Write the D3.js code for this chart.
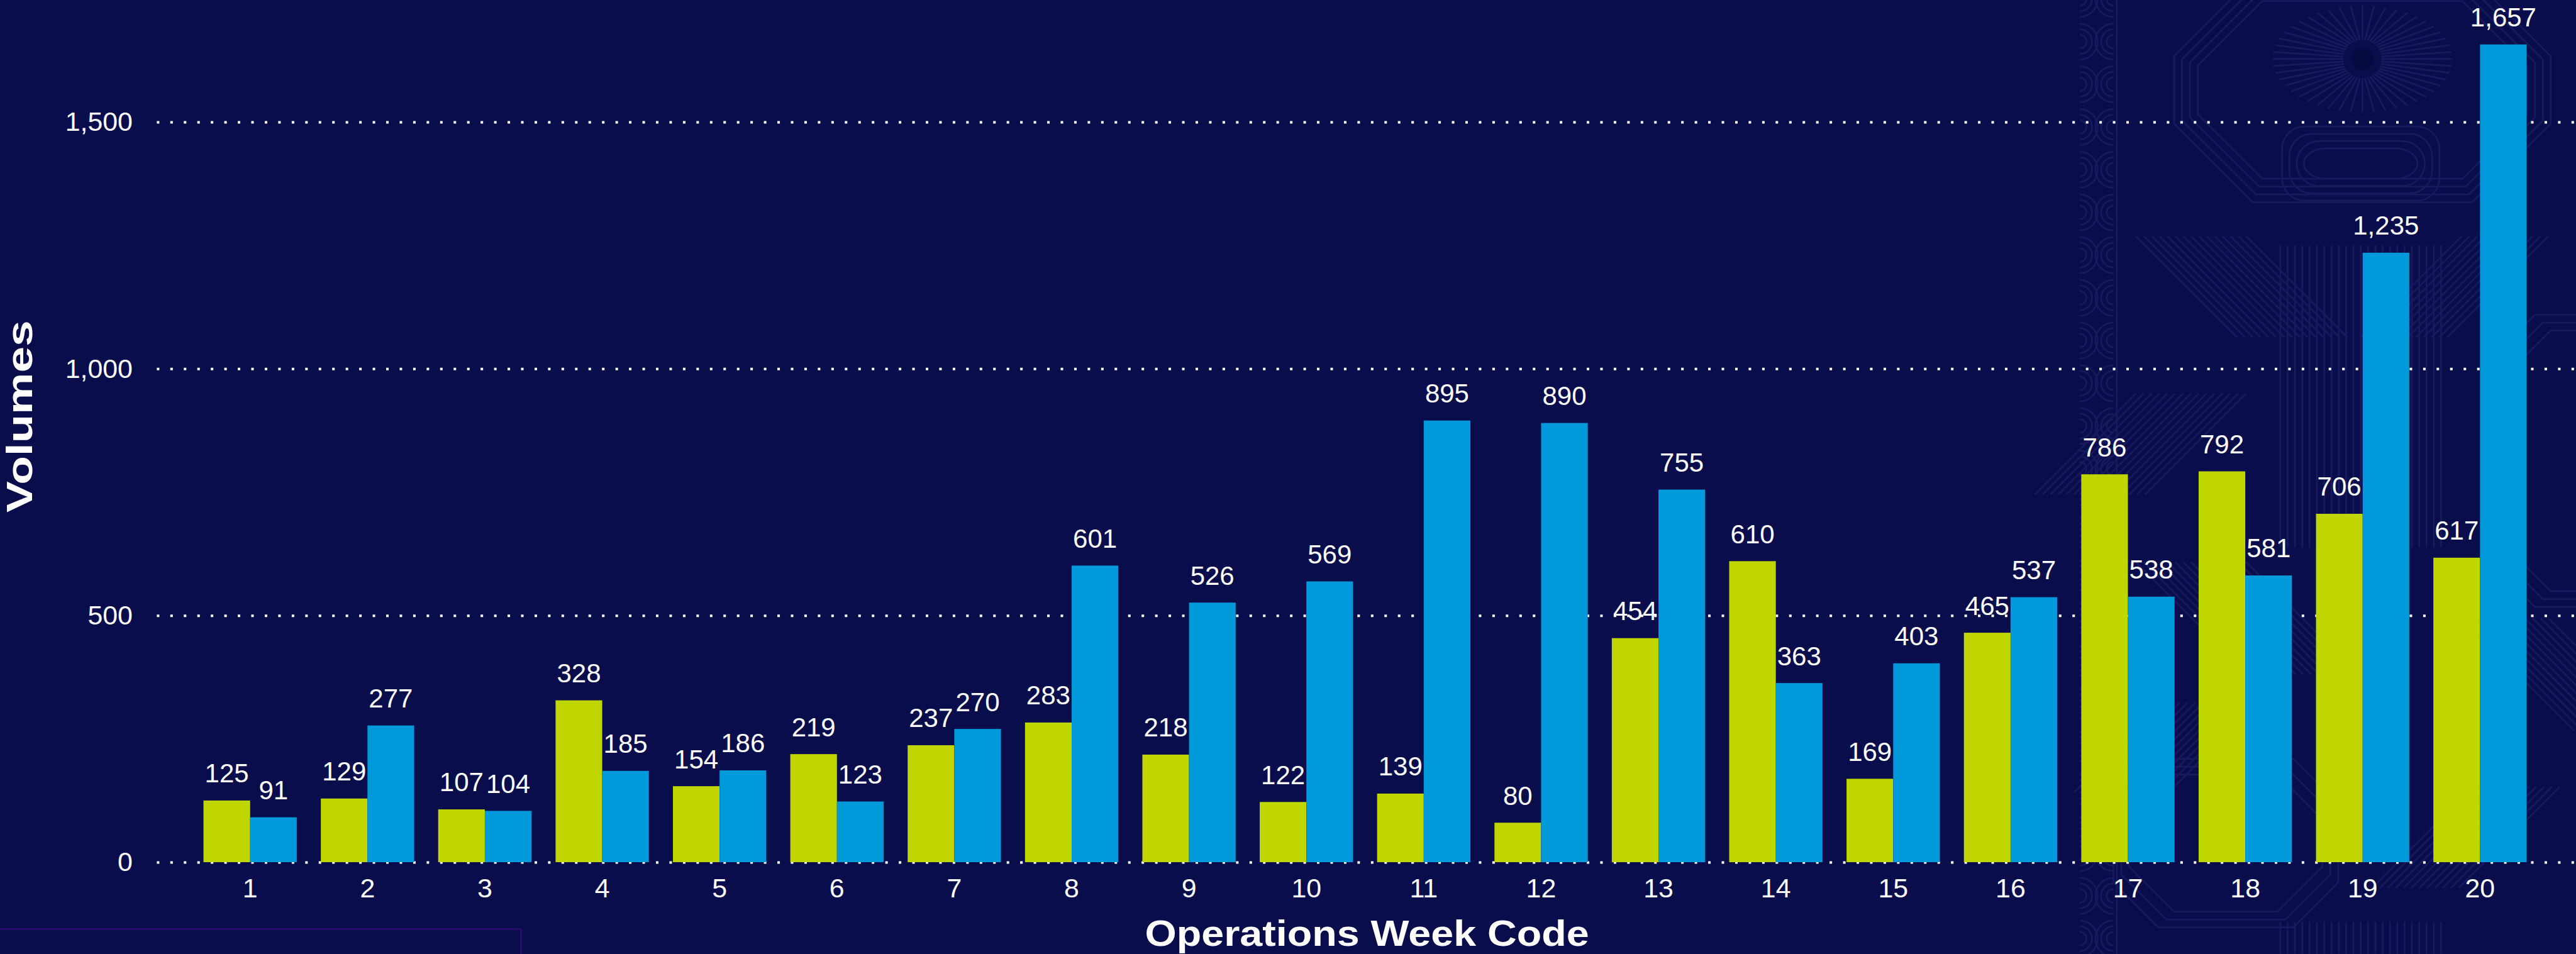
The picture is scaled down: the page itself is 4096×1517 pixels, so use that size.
<!DOCTYPE html>
<html>
<head>
<meta charset="utf-8">
<script src="https://cdn.jsdelivr.net/npm/d3@7"></script>
<style>
  html, body { margin: 0; padding: 0; background: #0a0d4c; overflow: hidden; }
  svg { display: block; }
</style>
</head>
<body>
<svg id="chart"></svg>
<script>
// ---- Data ----
const weeks = ["1","2","3","4","5","6","7","8","9","10","11","12","13","14","15","16","17","18","19","20"];
const seriesGreen = [125,129,107,328,154,219,237,283,218,122,139,80,454,610,169,465,786,792,706,617];
const seriesBlue  = [91,277,104,185,186,123,270,601,526,569,895,890,755,363,403,537,538,581,1235,1657];
const seriesKeys = ["green","blue"];
const yTicks = [0, 500, 1000, 1500];
const xTitle = "Operations Week Code";
const yTitle = "Volumes";

// ---- Layout ----
const W = 4096, H = 1517;
const S = W / 4583;
const BG = "#0a0d4c";
const colors = { green: "#bfd600", blue: "#0099da" };
const FONT = "'Liberation Sans', Arial, Helvetica, sans-serif";

const svg = d3.select("#chart").attr("width", W).attr("height", H)
  .style("font-family", FONT);

svg.append("rect").attr("width", W).attr("height", H).attr("fill", BG);

// ---- Decorative background pattern (faint) ----
const pat = svg.append("g").attr("transform", `scale(${S})`)
  .attr("fill", "none").attr("stroke", "#171b5e").attr("stroke-width", 3);

// left wavy strip
for (let yy = -40; yy < 1720; yy += 76) {
  [12, 22, 32].forEach(r => {
    pat.append("path").attr("d", `M3760,${yy + 38 - r} A${r},${r} 0 0 0 3760,${yy + 38 + r}`);
    pat.append("path").attr("d", `M3700,${yy + 38 - r} A${r},${r} 0 0 1 3700,${yy + 38 + r}`);
  });
}
pat.append("line").attr("x1", 3766).attr("x2", 3766).attr("y1", 0).attr("y2", 1697);

// sun with rays
const sc = [4203, 105];
for (let a = 0; a < 360; a += 7.5) {
  const rad = a * Math.PI / 180;
  const rx = 160, ry = 95;
  pat.append("line")
    .attr("x1", sc[0] + Math.cos(rad) * 34).attr("y1", sc[1] + Math.sin(rad) * 34)
    .attr("x2", sc[0] + Math.cos(rad) * rx).attr("y2", sc[1] + Math.sin(rad) * ry);
}
pat.append("circle").attr("cx", sc[0]).attr("cy", sc[1]).attr("r", 20).attr("fill", "#070a40").attr("stroke", "none");

// octagon outlines
function octagon(cx, cy, hw, hh, c) {
  return `M${cx - hw + c},${cy - hh} L${cx + hw - c},${cy - hh} L${cx + hw},${cy - hh + c} L${cx + hw},${cy + hh - c} L${cx + hw - c},${cy + hh} L${cx - hw + c},${cy + hh} L${cx - hw},${cy + hh - c} L${cx - hw},${cy - hh + c} Z`;
}
[0, 14, 28, 42].forEach(d => {
  pat.append("path").attr("d", octagon(4203, 160, 335 - d, 200 - d, 140 - d * 0.6));
});
[0, 13, 26, 39].forEach(d => {
  pat.append("rect").attr("x", 4060 + d).attr("y", 225 + d).attr("width", 280 - 2 * d).attr("height", 132 - 2 * d).attr("rx", 40);
});
[0, 14, 28].forEach(d => {
  pat.append("path").attr("d", octagon(4610, 820, 190 - d, 260 - d, 90));
  pat.append("path").attr("d", octagon(3960, 1500, 200 - d, 150 - d, 80));
});
// vertical line clusters
for (let xx = 4057; xx <= 4347; xx += 13) {
  pat.append("line").attr("x1", xx).attr("x2", xx).attr("y1", 437).attr("y2", 974);
  pat.append("line").attr("x1", xx).attr("x2", xx).attr("y1", 1640).attr("y2", 1697);
}
// diagonal hatches
function hatch(x0, y0, w, h, dir) {
  for (let k = 0; k < w; k += 14) {
    pat.append("line").attr("x1", x0 + k).attr("y1", y0)
      .attr("x2", x0 + k + dir * h).attr("y2", y0 + h);
  }
}
hatch(3800, 420, 200, 180, 1);
hatch(3800, 700, 200, 180, -1);
hatch(3800, 1000, 200, 200, 1);
hatch(4380, 420, 160, 180, -1);
hatch(4380, 1100, 160, 200, 1);
hatch(3850, 1250, 180, 160, -1);
hatch(4400, 1400, 160, 180, -1);

// ---- Bottom-left frame ----
svg.append("rect")
  .attr("x", -10).attr("y", 1653 * S)
  .attr("width", (928 + 10) * S).attr("height", 200)
  .attr("fill", "none").attr("stroke", "#2a0b70").attr("stroke-width", 3 * S);

// ---- Scales ----
const x0 = d3.scaleBand().domain(weeks)
  .range([340.6 * S, 4516.6 * S]).paddingInner(0.205).paddingOuter(0.1025);
const x1 = d3.scaleBand().domain(seriesKeys).range([0, x0.bandwidth()]);
const y = d3.scaleLinear().domain([0, 1500]).range([1534 * S, 217 * S]);

// ---- Y axis with dotted gridlines ----
const gridLeft = 279 * S;
const yAxis = svg.append("g")
  .attr("transform", `translate(${gridLeft},0)`)
  .call(d3.axisLeft(y).tickValues(yTicks).tickFormat(d3.format(","))
    .tickSize(-(W - gridLeft)).tickPadding((279 - 236) * S));
yAxis.select(".domain").remove();
yAxis.selectAll(".tick line")
  .attr("stroke", "#ffffff").attr("stroke-width", 4.5 * S)
  .attr("stroke-dasharray", `${4.5 * S} ${19.5 * S}`);
yAxis.selectAll(".tick text")
  .attr("fill", "#ffffff").attr("font-size", 48 * S).attr("font-family", FONT);

// ---- Bars ----
const rows = weeks.map((w, i) => ({ week: w, green: seriesGreen[i], blue: seriesBlue[i] }));
const groups = svg.append("g").selectAll("g").data(rows).join("g")
  .attr("transform", d => `translate(${x0(d.week)},0)`);

groups.selectAll("rect").data(d => seriesKeys.map(k => ({ key: k, value: d[k] }))).join("rect")
  .attr("x", d => x1(d.key))
  .attr("width", x1.bandwidth())
  .attr("y", d => y(d.value))
  .attr("height", d => y(0) - y(d.value))
  .attr("fill", d => colors[d.key]);

groups.selectAll("text").data(d => seriesKeys.map(k => ({ key: k, value: d[k] }))).join("text")
  .attr("x", d => x1(d.key) + x1.bandwidth() / 2)
  .attr("y", d => y(d.value) - 32 * S)
  .attr("text-anchor", "middle")
  .attr("fill", "#ffffff")
  .attr("font-size", 47 * S)
  .text(d => d3.format(",")(d.value));

// ---- X axis ----
const xAxis = svg.append("g")
  .attr("transform", `translate(0,${y(0)})`)
  .call(d3.axisBottom(x0).tickSize(0).tickPadding(29 * S));
xAxis.select(".domain").remove();
xAxis.selectAll(".tick text")
  .attr("fill", "#ffffff").attr("font-size", 48 * S).attr("font-family", FONT);

// ---- Titles ----
svg.append("text")
  .attr("x", 2432 * S).attr("y", 1683 * S)
  .attr("text-anchor", "middle")
  .attr("fill", "#ffffff").attr("font-weight", "bold")
  .attr("font-size", 64 * S)
  .attr("textLength", 790 * S).attr("lengthAdjust", "spacingAndGlyphs")
  .text(xTitle);

svg.append("text")
  .attr("transform", `translate(${57 * S},${741 * S}) rotate(-90)`)
  .attr("text-anchor", "middle")
  .attr("fill", "#ffffff").attr("font-weight", "bold")
  .attr("font-size", 64 * S)
  .attr("textLength", 342 * S).attr("lengthAdjust", "spacingAndGlyphs")
  .text(yTitle);
</script>
</body>
</html>
